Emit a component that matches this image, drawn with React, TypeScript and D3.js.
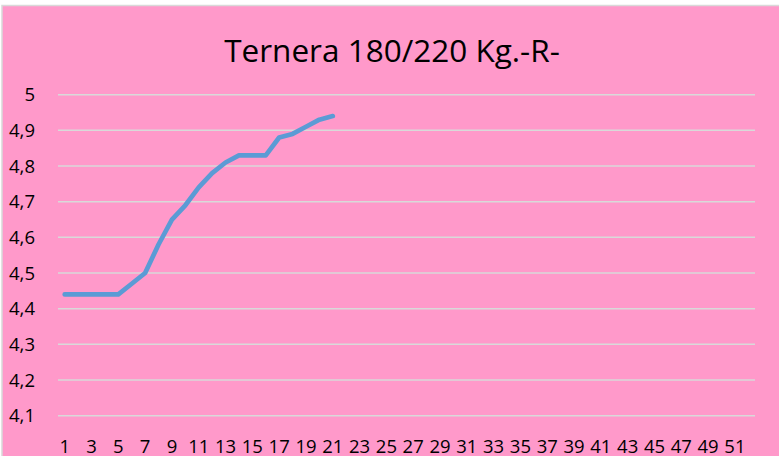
import React from "react";
import { scaleBand, scaleLinear, line } from "d3";

// weeks 1..52, values only known for the first 21
const weeks = Array.from({ length: 52 }, (_, i) => String(i + 1));
const prices = [
  4.44, 4.44, 4.44, 4.44, 4.44, 4.47, 4.5, 4.58, 4.65, 4.69, 4.74, 4.78,
  4.81, 4.83, 4.83, 4.83, 4.88, 4.89, 4.91, 4.93, 4.94,
];
const yTicks = [4.1, 4.2, 4.3, 4.4, 4.5, 4.6, 4.7, 4.8, 4.9, 5];
const title = "Ternera 180/220 Kg.-R-";

const W = 779;
const H = 456;
const font = "'Open Sans', Calibri, sans-serif";

export default function App() {
  const x = scaleBand().domain(weeks).range([58, 755]);
  const y = scaleLinear().domain([4.4, 5]).range([308.7, 94.7]);

  const path = line<number>()
    .x((_, i) => (x(weeks[i]) as number) + x.bandwidth() / 2)
    .y(d => y(d));

  return (
    <svg
      width={W}
      height={H}
      style={{ position: "absolute", left: 0, top: 0 }}
    >
      <rect x={0} y={0} width={W} height={H} fill="#fff" />
      <rect
        x={2}
        y={5.5}
        width={W + 10}
        height={H + 10}
        fill="#FF99CA"
        stroke="#D9D9D9"
        strokeWidth={1.5}
      />
      <text
        x={392}
        y={62}
        textAnchor="middle"
        fontFamily={font}
        fontSize={31.5}
        fill="#000"
      >
        {title}
      </text>

      {/* gridlines + y labels */}
      {yTicks.map(t => (
        <g key={t}>
          <line
            x1={58}
            x2={755}
            y1={y(t)}
            y2={y(t)}
            stroke="#D9D9D9"
            strokeWidth={1.5}
          />
          <text
            x={35}
            y={y(t)}
            dy="0.36em"
            textAnchor="end"
            fontFamily={font}
            fontSize={18.5}
            fill="#000"
          >
            {String(t).replace(".", ",")}
          </text>
        </g>
      ))}

      {/* x labels, every other week */}
      {weeks
        .filter((_, i) => i % 2 === 0)
        .map(w => (
          <text
            key={w}
            x={(x(w) as number) + x.bandwidth() / 2}
            y={453}
            textAnchor="middle"
            fontFamily={font}
            fontSize={18.5}
            fill="#000"
          >
            {w}
          </text>
        ))}

      <path
        d={path(prices) || ""}
        fill="none"
        stroke="#5B9BD5"
        strokeWidth={4.7}
        strokeLinejoin="round"
        strokeLinecap="round"
      />
    </svg>
  );
}
